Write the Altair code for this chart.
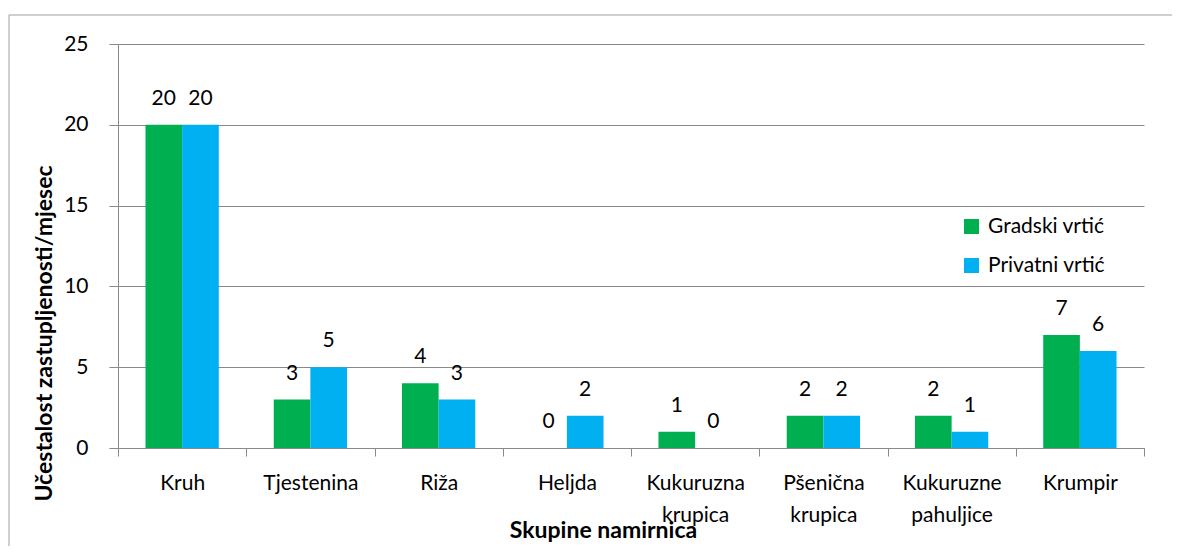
import altair as alt
import pandas as pd

categories = ["Kruh", "Tjestenina", "Riža", "Heljda", "Kukuruzna krupica",
              "Pšenična krupica", "Kukuruzne pahuljice", "Krumpir"]
series = ["Gradski vrtić", "Privatni vrtić"]
gradski = [20, 3, 4, 0, 1, 2, 2, 7]
privatni = [20, 5, 3, 2, 0, 2, 1, 6]
colors = ["#00B050", "#00B0F0"]
y_ticks = [0, 5, 10, 15, 20, 25]

rows = []
for i, c in enumerate(categories):
    rows.append({"cat": c, "series": series[0], "value": gradski[i]})
    rows.append({"cat": c, "series": series[1], "value": privatni[i]})
df = pd.DataFrame(rows)

FONT = "Lato"
GRAY = "#898989"
W, H = 1026, 404

x_enc = alt.X(
    "cat:N", sort=categories,
    scale=alt.Scale(paddingInner=0, paddingOuter=0),
    axis=alt.Axis(
        title="Skupine namirnica", titleFont=FONT, titleFontSize=23,
        titleFontWeight="bold", titleColor="black",
        titleX=485, titleY=82, titleAlign="center", titleBaseline="middle",
        labelAngle=0, labelExpr="split(datum.label, ' ')",
        labelFont=FONT, labelFontSize=21, labelColor="black",
        labelLineHeight=32, labelPadding=16, labelBaseline="top",
        tickBand="extent", tickSize=8, tickColor=GRAY, domainColor=GRAY,
        grid=False,
    ),
)
xoff = alt.XOffset("series:N", sort=series,
                   scale=alt.Scale(paddingInner=0, paddingOuter=0.75))
y_enc = alt.Y(
    "value:Q",
    scale=alt.Scale(domain=[0, 25], nice=False),
    axis=alt.Axis(
        values=y_ticks, title="Učestalost zastupljenosti/mjesec",
        titleFont=FONT, titleFontSize=23, titleFontWeight="bold",
        titleColor="black", titleAngle=270, titleX=-74, titleY=289,
        titleAlign="center", titleBaseline="middle",
        labelFont=FONT, labelFontSize=21, labelColor="black",
        labelPadding=21, tickSize=9, tickColor=GRAY, domainColor=GRAY,
        grid=True, gridColor=GRAY,
    ),
)

bars = alt.Chart(df).mark_bar(strokeWidth=0).encode(
    x=x_enc, xOffset=xoff, y=y_enc,
    color=alt.Color(
        "series:N", sort=series,
        scale=alt.Scale(domain=series, range=colors),
        legend=alt.Legend(
            title=None, orient="none", legendX=843, legendY=172,
            symbolType="square", symbolSize=225, symbolStrokeWidth=0,
            labelFont=FONT, labelFontSize=21, labelColor="black",
            rowPadding=17, labelOffset=6,
        ),
    ),
)

labels = alt.Chart(df).mark_text(
    dy=-26, baseline="middle", align="center", font=FONT, fontSize=21,
    color="black",
).encode(
    x=alt.X("cat:N", sort=categories), xOffset=xoff,
    y=alt.Y("value:Q"), text=alt.Text("value:Q"),
)

border = alt.Chart(pd.DataFrame({"a": [0]})).mark_rect(
    fill=None, stroke="#a0a0a0", strokeWidth=1,
).encode(
    x=alt.value(-109), x2=alt.value(W + 60),
    y=alt.value(-29), y2=alt.value(H + 140),
)

chart = alt.layer(border, bars, labels).properties(
    width=W, height=H,
    padding={"left": 110, "top": 36, "right": 28, "bottom": 98},
    autosize=alt.AutoSizeParams(type="none"),
).configure_view(stroke=None)

chart.save("out.html", embed_options={"renderer": "svg", "actions": False})
